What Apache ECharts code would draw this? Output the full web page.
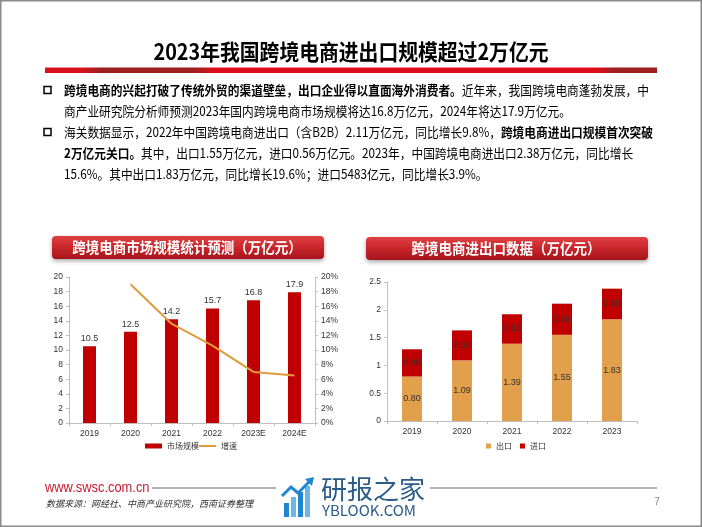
<!DOCTYPE html>
<html><head><meta charset="utf-8">
<script src="https://cdn.jsdelivr.net/npm/echarts/dist/echarts.min.js"></script>
<style>html,body{margin:0;padding:0;background:#fff}#c{width:702px;height:527px}</style>
</head><body><div id="c"></div>
<script>
// ---- data ----
const years1 = ['2019','2020','2021','2022','2023E','2024E'];
const marketSize = [10.5, 12.5, 14.2, 15.7, 16.8, 17.9];
const growthRate = [null, 0.19, 0.136, 0.106, 0.07, 0.065];
const years2 = ['2019','2020','2021','2022','2023'];
const exportVals = [0.80, 1.09, 1.39, 1.55, 1.83];
const importVals = [0.49, 0.54, 0.53, 0.56, 0.55];
const titleText = '2023年我国跨境电商进出口规模超过2万亿元';
const paraLines = [
  '{b|跨境电商的兴起打破了传统外贸的渠道壁垒，出口企业得以直面海外消费者。}近年来，我国跨境电商蓬勃发展，中',
  '商产业研究院分析师预测2023年国内跨境电商市场规模将达16.8万亿元，2024年将达17.9万亿元。',
  '海关数据显示，2022年中国跨境电商进出口（含B2B）2.11万亿元，同比增长9.8%，{b|跨境电商进出口规模首次突破}',
  '{b|2万亿元关口。}其中，出口1.55万亿元，进口0.56万亿元。2023年，中国跨境电商进出口2.38万亿元，同比增长',
  '15.6%。其中出口1.83万亿元，同比增长19.6%；进口5483亿元，同比增长3.9%。'
];
const leftHeader = '跨境电商市场规模统计预测（万亿元）';
const rightHeader = '跨境电商进出口数据（万亿元）';
const sourceText = '数据来源：网经社、中商产业研究院，西南证券整理';

const CJK = '"Noto Sans CJK SC", "Noto Sans", sans-serif';
const LAT = '"Liberation Sans", Arial, sans-serif';

const chart = echarts.init(document.getElementById('c'), null, {renderer:'canvas'});

const graphics = [];
// frame
graphics.push({type:'rect', shape:{x:0.75,y:0.75,width:700.5,height:525.5}, style:{fill:'none', stroke:'#8a8a8a', lineWidth:1.5}, silent:true});
// title
graphics.push({type:'text', x:351, y:52, scaleX:0.9, style:{text:titleText, x:0, y:0, align:'center', verticalAlign:'middle', font:'bold 22px ' + CJK, fill:'#000'}});
// red bar
graphics.push({type:'rect', shape:{x:45, y:67.5, width:612, height:5.5}, style:{fill:new echarts.graphic.LinearGradient(0,0,1,0,[
  {offset:0, color:'#d8121d'},{offset:0.06, color:'#d8121d'},{offset:0.09, color:'#9c1f1f'},{offset:0.24, color:'#9c1f1f'},
  {offset:0.28, color:'#df0d1b'},{offset:0.9, color:'#df0d1b'},{offset:0.93, color:'#9c1f1f'},{offset:1, color:'#9c1f1f'}])}});
// bullets
[90, 132].forEach(function(y){
  graphics.push({type:'rect', shape:{x:44, y:y-3.5, width:7, height:7}, style:{fill:'none', stroke:'#000', lineWidth:1.5}});
});
const lineYs = [90, 111, 132, 153, 174];
paraLines.forEach(function(t, i){
  graphics.push({type:'text', x:64, y:lineYs[i], scaleX:0.9, style:{text:t, x:0, y:0, align:'left', verticalAlign:'middle', font:'13px ' + CJK, fill:'#000',
    rich:{b:{fontWeight:'bold', fontSize:13, fontFamily:CJK, fill:'#000'}}}});
});
// headers
function pill(x, y, w, h, cx, text){
  graphics.push({type:'rect', shape:{x:x, y:y, width:w, height:h, r:4}, style:{
    fill:new echarts.graphic.LinearGradient(0,0,0,1,[{offset:0,color:'#de4040'},{offset:0.5,color:'#c8262b'},{offset:1,color:'#a5141a'}]),
    shadowBlur:4, shadowOffsetY:2, shadowColor:'rgba(0,0,0,0.35)'}});
  graphics.push({type:'text', x:cx, y:y+h/2, scaleX:0.9, style:{text:text, x:0, y:0, align:'center', verticalAlign:'middle', font:'bold 15px ' + CJK, fill:'#fff'}});
}
pill(52, 236, 272, 23, 187, leftHeader);
pill(366, 237, 282, 23, 506, rightHeader);
// footer
graphics.push({type:'line', shape:{x1:152, y1:488, x2:657, y2:488}, style:{stroke:'#b5b5b5', lineWidth:2}});
graphics.push({type:'text', x:45, y:488, scaleX:0.92, style:{text:'www.swsc.com.cn', x:0, y:0, align:'left', verticalAlign:'middle', font:'14px ' + LAT, fill:'#c8192e'}});
graphics.push({type:'text', x:46, y:504, style:{text:sourceText, x:0, y:0, align:'left', verticalAlign:'middle', font:'italic 9px ' + CJK, fill:'#333'}});
graphics.push({type:'text', x:657, y:502, style:{text:'7', x:0, y:0, align:'center', verticalAlign:'middle', font:'10px ' + LAT, fill:'#888'}});
// watermark
graphics.push({type:'rect', shape:{x:276, y:476, width:154, height:44}, style:{fill:'#fff'}});
[[284,503],[291,497],[298,492],[305,486]].forEach(function(b, i){
  graphics.push({type:'rect', shape:{x:b[0], y:b[1], width:5, height:517-b[1]}, style:{fill: i%2 ? '#6cb6e8' : '#1f86cf'}});
});
graphics.push({type:'polyline', shape:{points:[[282,496],[291,487],[298,493],[310,481]]}, style:{stroke:'#1f86cf', lineWidth:3, fill:'none'}});
graphics.push({type:'polygon', shape:{points:[[314,477],[305,479],[312,486]]}, style:{fill:'#1f86cf'}});
graphics.push({type:'text', x:321, y:489, style:{text:'研报之家', x:0, y:0, align:'left', verticalAlign:'middle', font:'26px ' + CJK, fill:'#2b5b88'}});
graphics.push({type:'text', x:322, y:510, style:{text:'YBLOOK.COM', x:0, y:0, align:'left', verticalAlign:'middle', font:'15px ' + CJK, fill:'#2b5b88'}});

const axisCol = '#bfbfbf';
const lblStyle = {color:'#333', fontSize:8.5, fontFamily:LAT};
function valAxis(grid, min, max, interval, pos, fmt){
  return {type:'value', gridIndex:grid, min:min, max:max, interval:interval, position:pos,
    axisLine:{show:true, lineStyle:{color:axisCol}}, axisTick:{show:true, length:3, lineStyle:{color:axisCol}},
    splitLine:{show:false}, axisLabel:Object.assign({margin:6, formatter:fmt}, lblStyle)};
}
function catAxis(grid, data){
  return {type:'category', gridIndex:grid, data:data, axisLine:{lineStyle:{color:axisCol}},
    axisTick:{show:true, length:3, lineStyle:{color:axisCol}}, axisLabel:Object.assign({margin:6}, lblStyle)};
}

const option = {
  animation:false,
  textStyle:{fontFamily:LAT},
  graphic:graphics,
  grid:[{left:69, top:277, width:246, height:146}, {left:387, top:282, width:250, height:139}],
  xAxis:[catAxis(0, years1), catAxis(1, years2)],
  yAxis:[
    valAxis(0, 0, 20, 2, 'left'),
    valAxis(0, 0, 0.2, 0.02, 'right', function(v){return Math.round(v*100) + '%';}),
    valAxis(1, 0, 2.5, 0.5, 'left')
  ],
  legend:[
    {data:['市场规模'], left:145, top:442, padding:0, icon:'rect', itemWidth:17, itemHeight:5, itemGap:8, textStyle:{fontSize:8, fontFamily:CJK, color:'#333'}},
    {data:['增速'], left:199, top:442, padding:0, icon:'rect', itemWidth:17, itemHeight:2, textStyle:{fontSize:8, fontFamily:CJK, color:'#333'}},
    {data:['出口','进口'], left:486, top:442, padding:0, icon:'rect', itemWidth:5, itemHeight:5, itemGap:8, textStyle:{fontSize:8, fontFamily:CJK, color:'#333'}}
  ],
  series:[
    {type:'bar', name:'市场规模', xAxisIndex:0, yAxisIndex:0, data:marketSize, barWidth:13, itemStyle:{color:'#c00000'},
      label:{show:true, position:'top', distance:3, fontSize:9, color:'#333', fontFamily:LAT}},
    {type:'line', name:'增速', xAxisIndex:0, yAxisIndex:1, data:growthRate, showSymbol:false, symbol:'none',
      lineStyle:{color:'#e09b3a', width:2}, itemStyle:{color:'#e09b3a'}},
    {type:'bar', name:'出口', xAxisIndex:1, yAxisIndex:2, stack:'t', data:exportVals, barWidth:20, itemStyle:{color:'#e2a04c'},
      label:{show:true, position:'inside', fontSize:9, color:'#333', fontFamily:LAT, formatter:function(p){return p.value.toFixed(2);}}},
    {type:'bar', name:'进口', xAxisIndex:1, yAxisIndex:2, stack:'t', data:importVals, barWidth:20, itemStyle:{color:'#c00000'},
      label:{show:true, position:'inside', fontSize:9, color:'#333', fontFamily:LAT, formatter:function(p){return p.value.toFixed(2);}}}
  ]
};
chart.setOption(option);
</script>
</body></html>
